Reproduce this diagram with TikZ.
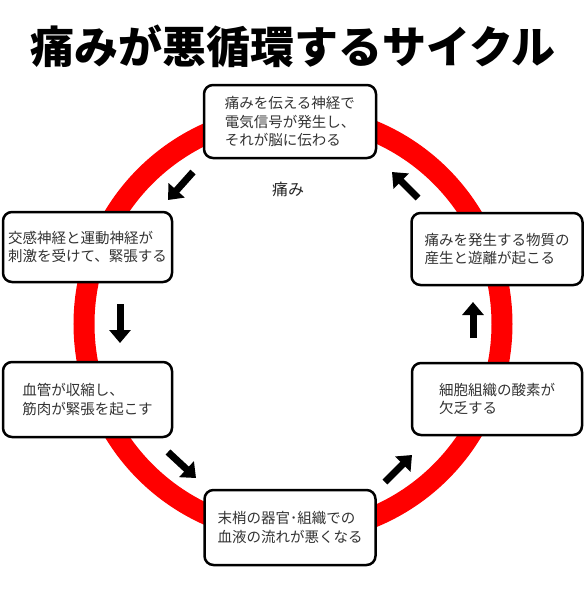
\documentclass[tikz,border=0pt]{standalone}
\usepackage{fontspec}
\newfontfamily\jp{Noto Sans CJK JP}
\usetikzlibrary{arrows.meta}
\definecolor{ringred}{HTML}{FF0000}
\definecolor{boxtext}{HTML}{333333}
\begin{document}
\begin{tikzpicture}[x=1pt,y=-1pt,
  stepbox/.style={draw=black, line width=2.5pt, rounded corners=9pt, fill=white,
    align=left, inner sep=0pt, text=boxtext,
    font=\jp\fontsize{14.5}{18.5}\selectfont},
  blockarrow/.style={line width=7pt, -{Triangle[length=13pt,width=21pt]}},
  titletext/.style={font=\jp\bfseries\fontsize{44}{48}\selectfont, text=black, inner sep=0pt},
  centertext/.style={font=\jp\fontsize{16}{18}\selectfont, text=black!85, inner sep=0pt}]
\useasboundingbox[fill=white] (0,0) rectangle (584,603);

\node[titletext] (title) at (293,46) {痛みが悪循環するサイクル};

\draw[ringred, line width=21pt] (293,324) circle[radius=209pt];

\node[stepbox, minimum width=172pt, minimum height=73pt] (top) at (290,121.5)
  {痛みを伝える神経で\\電気信号が発生し、\\それが脳に伝わる};
\node[stepbox, minimum width=169pt, minimum height=70pt] (lt) at (87.5,247)
  {交感神経と運動神経が\\刺激を受けて、緊張する};
\node[stepbox, minimum width=171pt, minimum height=72pt] (rt) at (497,249)
  {痛みを発生する物質の\\産生と遊離が起こる};
\node[stepbox, minimum width=169pt, minimum height=75pt] (lb) at (87.5,399.5)
  {血管が収縮し、\\筋肉が緊張を起こす};
\node[stepbox, minimum width=170pt, minimum height=72pt] (rb) at (497,399)
  {細胞組織の酸素が\\欠乏する};
\node[stepbox, minimum width=171pt, minimum height=75pt] (bot) at (290,527.5)
  {末梢の器官･組織での\\血液の流れが悪くなる};

\node[centertext] (pain) at (288,189) {痛み};

\coordinate (a1s) at (193,172); \coordinate (a1e) at (168,200);
\coordinate (a2s) at (120,304); \coordinate (a2e) at (120,343);
\coordinate (a3s) at (168,452); \coordinate (a3e) at (196,478);
\coordinate (a4s) at (385,482); \coordinate (a4e) at (412,455);
\coordinate (a5s) at (473,338); \coordinate (a5e) at (473,302);
\coordinate (a6s) at (418,198); \coordinate (a6e) at (392,172);

\draw[blockarrow] (a1s) -- (a1e);
\draw[blockarrow] (a2s) -- (a2e);
\draw[blockarrow] (a3s) -- (a3e);
\draw[blockarrow] (a4s) -- (a4e);
\draw[blockarrow] (a5s) -- (a5e);
\draw[blockarrow] (a6s) -- (a6e);
\end{tikzpicture}
\end{document}
